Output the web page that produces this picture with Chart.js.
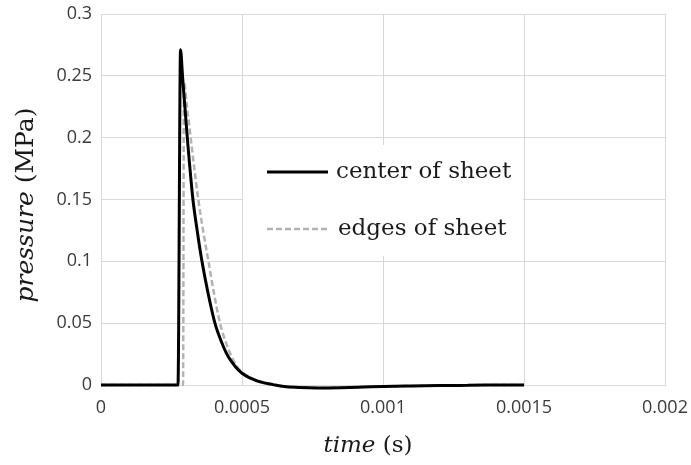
<!DOCTYPE html>
<html><head><meta charset="utf-8">
<script src="https://cdn.jsdelivr.net/npm/chart.js@4/dist/chart.umd.min.js"></script>
<style>html,body{margin:0;padding:0;background:#fff;}#wrap{width:691px;height:465px;position:relative;}</style>
</head><body><div id="wrap"><canvas id="c" width="691" height="465"></canvas></div>
<script>
// ---- data (time in s, pressure in MPa) ----
const centerTime = [0, 0.000273, 0.000282, 0.000289, 0.000306, 0.000326, 0.000341, 0.000358, 0.000379, 0.000404, 0.000427, 0.000451, 0.000476, 0.0005, 0.00053, 0.000564, 0.00061, 0.00065, 0.0007, 0.00077, 0.00085, 0.00093, 0.001, 0.0011, 0.0012, 0.0013, 0.0014, 0.0015];
const centerPressure = [0, 0, 0.271, 0.25, 0.2, 0.15, 0.125, 0.1, 0.075, 0.05, 0.035, 0.023, 0.015, 0.0095, 0.0055, 0.0025, 0.0003, -0.0013, -0.002, -0.0024, -0.0022, -0.0017, -0.0012, -0.0008, -0.0005, -0.0003, -0.0001, 0];
const edgesTime = [0, 0.000291, 0.000294, 0.000305, 0.000318, 0.000331, 0.000345, 0.000362, 0.000381, 0.0004, 0.000422, 0.000442, 0.000463, 0.000482, 0.0005, 0.00053, 0.000564, 0.00061, 0.00065, 0.0007, 0.00077, 0.00085, 0.00093, 0.001, 0.0011, 0.0012, 0.0013, 0.0014, 0.0015];
const edgesPressure = [0, 0, 0.245, 0.225, 0.2, 0.175, 0.15, 0.125, 0.1, 0.075, 0.05, 0.035, 0.023, 0.015, 0.0105, 0.006, 0.003, 0.0004, -0.0013, -0.002, -0.0024, -0.0022, -0.0017, -0.0012, -0.0008, -0.0005, -0.0003, -0.0001, 0];
const seriesNames = ['center of sheet', 'edges of sheet'];
const xTickValues = [0, 0.0005, 0.001, 0.0015, 0.002];
const xTickLabels = ['0', '0.0005', '0.001', '0.0015', '0.002'];
const yTickValues = [0, 0.05, 0.1, 0.15, 0.2, 0.25, 0.3];
const yTickLabels = ['0', '0.05', '0.1', '0.15', '0.2', '0.25', '0.3'];
const xTitleParts = ['time', ' (s)'];
const yTitleParts = ['pressure', ' (MPa)'];

const toPts = (xs, ys) => xs.map((x, i) => ({x: x, y: ys[i]}));
const gridColor = '#d9d9d9';
const tickColor = '#3b3b3b';
const serif = '"DejaVu Serif", serif';

const overlay = {
  id: 'overlay',
  beforeDatasetsDraw(chart) {
    const ctx = chart.ctx;
    ctx.save();
    ctx.fillStyle = '#ffffff';
    ctx.fillRect(243, 145, 280, 111);
    ctx.restore();
  },
  afterDraw(chart) {
    const ctx = chart.ctx;
    const ds = chart.data.datasets;
    ctx.save();
    // legend
    const items = [{y: 172, x0: 267, x1: 328, tx: 336}, {y: 229, x0: 267, x1: 328, tx: 338}];
    items.forEach((it, i) => {
      ctx.beginPath();
      ctx.strokeStyle = ds[i].borderColor;
      ctx.lineWidth = ds[i].borderWidth;
      ctx.setLineDash(ds[i].borderDash || []);
      ctx.moveTo(it.x0, it.y); ctx.lineTo(it.x1, it.y);
      ctx.stroke();
      ctx.setLineDash([]);
      ctx.fillStyle = '#1a1a1a';
      ctx.font = '23px ' + serif;
      ctx.textBaseline = 'middle';
      ctx.textAlign = 'left';
      ctx.fillText(seriesNames[i], it.tx, it.y);
    });
    // x title
    ctx.fillStyle = '#1a1a1a';
    ctx.textBaseline = 'middle';
    ctx.textAlign = 'left';
    const fI = 'italic 23px ' + serif, fR = '23px ' + serif;
    ctx.font = fI; const w1 = ctx.measureText(xTitleParts[0]).width;
    ctx.font = fR; const w2 = ctx.measureText(xTitleParts[1]).width;
    const cx = 368, cy = 446;
    ctx.font = fI; ctx.fillText(xTitleParts[0], cx - (w1 + w2) / 2, cy);
    ctx.font = fR; ctx.fillText(xTitleParts[1], cx - (w1 + w2) / 2 + w1, cy);
    // y title
    const gI = 'italic 25px ' + serif, gR = '25px ' + serif;
    ctx.font = gI; const v1 = ctx.measureText(yTitleParts[0]).width;
    ctx.font = gR; const v2 = ctx.measureText(yTitleParts[1]).width;
    ctx.translate(26, 205);
    ctx.rotate(-Math.PI / 2);
    ctx.font = gI; ctx.fillText(yTitleParts[0], -(v1 + v2) / 2, 0);
    ctx.font = gR; ctx.fillText(yTitleParts[1], -(v1 + v2) / 2 + v1, 0);
    ctx.restore();
  }
};

new Chart(document.getElementById('c'), {
  type: 'line',
  data: {
    datasets: [
      {label: seriesNames[0], data: toPts(centerTime, centerPressure), borderColor: '#000000', borderWidth: 3,
       pointRadius: 0, cubicInterpolationMode: 'monotone', clip: 10},
      {label: seriesNames[1], data: toPts(edgesTime, edgesPressure), borderColor: '#b3b3b3', borderWidth: 2.5,
       borderDash: [6, 3], pointRadius: 0, cubicInterpolationMode: 'monotone', clip: 10}
    ]
  },
  options: {
    responsive: false, animation: false, devicePixelRatio: 1,
    layout: {padding: {left: 0, right: 26, top: 14, bottom: 0}},
    plugins: {legend: {display: false}, tooltip: {enabled: false}},
    scales: {
      x: {
        type: 'linear', min: 0, max: 0.002,
        afterBuildTicks: s => { s.ticks = xTickValues.map(v => ({value: v})); },
        afterFit: s => { s.height = 80; s.paddingLeft = 0; s.paddingRight = 0; },
        grid: {color: gridColor, drawTicks: false},
        border: {color: gridColor},
        ticks: {padding: 12, color: tickColor, font: {family: '"Open Sans"', size: 18},
                callback: (v, i) => xTickLabels[i], maxRotation: 0}
      },
      y: {
        type: 'linear', min: 0, max: 0.3,
        afterBuildTicks: s => { s.ticks = yTickValues.map(v => ({value: v})); },
        afterFit: s => { s.width = 101; s.paddingTop = 0; s.paddingBottom = 0; },
        grid: {color: gridColor, drawTicks: false},
        border: {color: gridColor},
        ticks: {padding: 9, color: tickColor, font: {family: '"Open Sans"', size: 18},
                callback: (v, i) => yTickLabels[i]}
      }
    }
  },
  plugins: [overlay]
});
</script></body></html>
